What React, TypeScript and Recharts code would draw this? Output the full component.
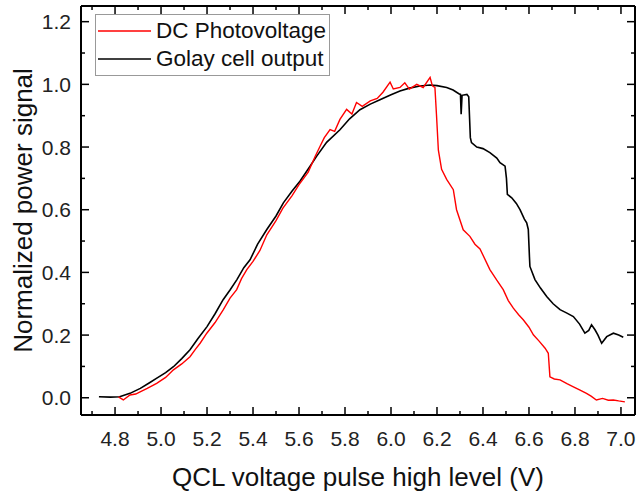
import React from 'react';
import { LineChart, Line, XAxis, YAxis, Legend } from 'recharts';

// Golay cell output (black)
const golayV = [
  4.73, 4.78, 4.82, 4.865, 4.91, 4.95, 4.98, 5.02, 5.054, 5.09, 5.126, 5.16, 5.2, 5.235, 5.27, 5.3,
  5.33, 5.36, 5.387, 5.42, 5.46, 5.5, 5.532, 5.57, 5.604, 5.64, 5.677, 5.72, 5.778, 5.82, 5.865,
  5.91, 5.952, 6.0, 6.039, 6.08, 6.126, 6.17, 6.2, 6.242, 6.27, 6.295, 6.302, 6.305, 6.309, 6.33,
  6.338, 6.345, 6.35, 6.373, 6.4, 6.43, 6.46, 6.474, 6.496, 6.502, 6.506, 6.525, 6.545, 6.561,
  6.58, 6.59, 6.597, 6.602, 6.604, 6.626, 6.65, 6.677, 6.705, 6.735, 6.765, 6.793, 6.82, 6.843,
  6.86, 6.872, 6.887, 6.9, 6.916, 6.938, 6.967, 6.99, 7.01,
];
const golaySignal = [
  0.003, 0.002, 0.003, 0.014, 0.03, 0.048, 0.062, 0.08, 0.099, 0.125, 0.153, 0.188, 0.227, 0.268,
  0.313, 0.344, 0.377, 0.415, 0.44, 0.49, 0.537, 0.58, 0.622, 0.66, 0.691, 0.73, 0.771, 0.815,
  0.855, 0.89, 0.919, 0.937, 0.951, 0.967, 0.979, 0.988, 0.995, 0.998, 0.996, 0.99, 0.982, 0.97,
  0.968, 0.905, 0.965, 0.968, 0.96, 0.83, 0.814, 0.8, 0.795, 0.782, 0.765, 0.75, 0.739, 0.7,
  0.649, 0.638, 0.62, 0.6, 0.57, 0.558, 0.537, 0.45, 0.419, 0.377, 0.35, 0.323, 0.3, 0.281, 0.27,
  0.259, 0.235, 0.206, 0.215, 0.233, 0.217, 0.2, 0.174, 0.195, 0.206, 0.2, 0.193,
];

// DC photovoltage (red)
const pvV = [
  4.815, 4.836, 4.865, 4.89, 4.909, 4.94, 4.981, 5.02, 5.054, 5.09, 5.126, 5.15, 5.17, 5.199, 5.235,
  5.271, 5.3, 5.329, 5.35, 5.373, 5.4, 5.43, 5.46, 5.5, 5.53, 5.57, 5.6, 5.64, 5.67, 5.69, 5.71,
  5.735, 5.755, 5.778, 5.807, 5.83, 5.85, 5.875, 5.91, 5.94, 5.965, 5.996, 6.01, 6.039, 6.06, 6.08,
  6.112, 6.14, 6.17, 6.18, 6.191, 6.198, 6.206, 6.22, 6.242, 6.271, 6.285, 6.314, 6.343, 6.365,
  6.387, 6.43, 6.46, 6.488, 6.51, 6.532, 6.555, 6.575, 6.6, 6.619, 6.645, 6.67, 6.684, 6.691, 6.71,
  6.735, 6.765, 6.793, 6.82, 6.85, 6.87, 6.893, 6.92, 6.945, 6.967, 6.99, 7.017,
];
const pvSignal = [
  0.003, -0.007, 0.009, 0.012, 0.019, 0.03, 0.046, 0.065, 0.089, 0.108, 0.131, 0.155, 0.174, 0.206,
  0.24, 0.281, 0.318, 0.345, 0.38, 0.409, 0.435, 0.47, 0.52, 0.565, 0.605, 0.645, 0.68, 0.72, 0.77,
  0.8, 0.83, 0.856, 0.85, 0.888, 0.92, 0.905, 0.942, 0.93, 0.947, 0.955, 0.975, 1.007, 0.985, 0.99,
  1.005, 0.985, 1.0, 0.99, 1.022, 0.995, 0.99, 0.9, 0.79, 0.729, 0.697, 0.664, 0.6, 0.536, 0.515,
  0.49, 0.475, 0.409, 0.375, 0.345, 0.31, 0.286, 0.265, 0.249, 0.225, 0.201, 0.18, 0.158, 0.142,
  0.067, 0.06, 0.057, 0.045, 0.035, 0.025, 0.014, 0.005, -0.007, -0.002, -0.008, -0.007, -0.01,
  -0.013,
];

const xTicks = [4.7, 4.8, 4.9, 5.0, 5.1, 5.2, 5.3, 5.4, 5.5, 5.6, 5.7, 5.8, 5.9, 6.0, 6.1, 6.2, 6.3, 6.4, 6.5, 6.6, 6.7, 6.8, 6.9, 7.0];
const yTicks = [0, 0.1, 0.2, 0.3, 0.4, 0.5, 0.6, 0.7, 0.8, 0.9, 1.0, 1.1, 1.2];

const golayData = golayV.map((x, i) => ({ x, y: golaySignal[i] }));
const pvData = pvV.map((x, i) => ({ x, y: pvSignal[i] }));

const FONT = '"Liberation Sans", Arial, sans-serif';
const X_DOMAIN: [number, number] = [4.652, 7.061];
const Y_DOMAIN: [number, number] = [-0.055, 1.25];
const isMajor = (v: number) => Math.round(v * 10) % 2 === 0;

const BottomTick = (props: any) => {
  const { x, y, payload } = props;
  const major = isMajor(payload.value);
  return (
    <g>
      <line x1={x} x2={x} y1={y} y2={y - (major ? 8 : 4)} stroke="#000" strokeWidth={1.5} />
      {major && (
        <text x={x} y={y + 23} textAnchor="middle" dominantBaseline="central" fontSize={21} fontFamily={FONT} fill="#222">
          {payload.value.toFixed(1)}
        </text>
      )}
    </g>
  );
};

const TopTick = (props: any) => {
  const { x, y, payload } = props;
  return <line x1={x} x2={x} y1={y} y2={y + (isMajor(payload.value) ? 8 : 4)} stroke="#000" strokeWidth={1.5} />;
};

const LeftTick = (props: any) => {
  const { x, y, payload } = props;
  const major = isMajor(payload.value);
  return (
    <g>
      <line x1={x} x2={x + (major ? 8 : 4)} y1={y} y2={y} stroke="#000" strokeWidth={1.5} />
      {major && (
        <text x={x - 10} y={y} textAnchor="end" dominantBaseline="central" fontSize={21} fontFamily={FONT} fill="#222">
          {payload.value.toFixed(1)}
        </text>
      )}
    </g>
  );
};

const RightTick = (props: any) => {
  const { x, y, payload } = props;
  return <line x1={x} x2={x - (isMajor(payload.value) ? 8 : 4)} y1={y} y2={y} stroke="#000" strokeWidth={1.5} />;
};

const YTitle = (props: any) => {
  const { viewBox } = props;
  const cy = viewBox.y + viewBox.height / 2;
  return (
    <text x={23} y={cy} transform={`rotate(-90, 23, ${cy})`} textAnchor="middle" dominantBaseline="central" fontSize={26} fontFamily={FONT} fill="#111">
      Normalized power signal
    </text>
  );
};

const legendItems = [
  { label: 'DC Photovoltage', color: '#ff0000' },
  { label: 'Golay cell output', color: '#000000' },
];

const LegendBox = () => (
  <div style={{ border: '1px solid #999', background: '#fff', padding: '2px 3px 2px 2px', fontFamily: FONT, fontSize: 22.5, color: '#111' }}>
    {legendItems.map((it) => (
      <div key={it.label} style={{ display: 'flex', alignItems: 'center', height: 28 }}>
        <svg width={53} height={4} style={{ marginRight: 5 }}>
          <line x1={0} x2={53} y1={2} y2={2} stroke={it.color} strokeWidth={1.5} />
        </svg>
        <span style={{ whiteSpace: 'nowrap' }}>{it.label}</span>
      </div>
    ))}
  </div>
);

export default function App() {
  const axisLine = { stroke: '#000', strokeWidth: 2 };
  return (
    <div style={{ position: 'absolute', left: 0, top: 0, width: 637, height: 492, background: '#fff' }}>
      <LineChart width={637} height={492} margin={{ top: 5, right: 1, left: 0, bottom: 0 }}>
        <XAxis
          dataKey="x"
          type="number"
          domain={X_DOMAIN}
          allowDataOverflow
          ticks={xTicks}
          interval={0}
          tickSize={0}
          tickMargin={0}
          tickLine={false}
          axisLine={axisLine}
          tick={<BottomTick />}
          height={77}
          label={{ value: 'QCL voltage pulse high level (V)', position: 'insideBottom', offset: 6, fontSize: 26, fontFamily: FONT, fill: '#111' }}
        />
        <XAxis
          xAxisId="top"
          orientation="top"
          dataKey="x"
          type="number"
          domain={X_DOMAIN}
          allowDataOverflow
          ticks={xTicks}
          interval={0}
          tickSize={0}
          tickMargin={0}
          tickLine={false}
          axisLine={axisLine}
          tick={<TopTick />}
          height={1}
        />
        <YAxis
          type="number"
          domain={Y_DOMAIN}
          allowDataOverflow
          ticks={yTicks}
          interval={0}
          tickSize={0}
          tickMargin={0}
          tickLine={false}
          axisLine={axisLine}
          tick={<LeftTick />}
          width={81}
          label={<YTitle />}
        />
        <YAxis
          yAxisId="right"
          orientation="right"
          type="number"
          domain={Y_DOMAIN}
          allowDataOverflow
          ticks={yTicks}
          interval={0}
          tickSize={0}
          tickMargin={0}
          tickLine={false}
          axisLine={axisLine}
          tick={<RightTick />}
          width={1}
        />
        <Legend
          layout="vertical"
          align="center"
          verticalAlign="middle"
          content={<LegendBox />}
          wrapperStyle={{ left: 95, top: 14, width: 'auto' }}
        />
        <Line data={golayData} dataKey="y" name="Golay cell output" stroke="#000" strokeWidth={1.6} dot={false} isAnimationActive={false} type="linear" />
        <Line
          data={pvData}
          dataKey="y"
          name="DC Photovoltage"
          xAxisId="top"
          yAxisId="right"
          stroke="#ff0000"
          strokeWidth={1.4}
          dot={false}
          isAnimationActive={false}
          type="linear"
        />
      </LineChart>
    </div>
  );
}
